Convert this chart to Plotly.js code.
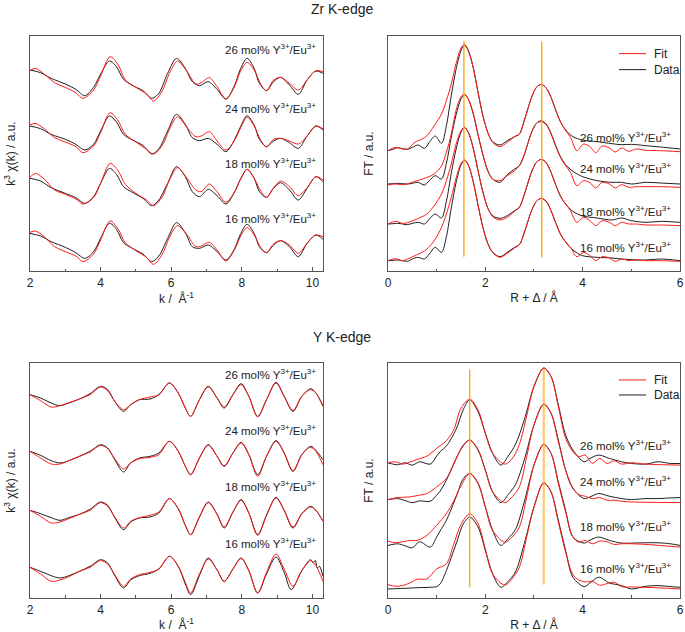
<!DOCTYPE html>
<html><head><meta charset="utf-8">
<script src="https://cdn.plot.ly/plotly-3.0.1.min.js"></script>
<style>html,body{margin:0;padding:0;background:#fff}#chart{width:685px;height:632px}</style>
</head><body><div id="chart"></div>
<script>
// ---------- sample labels ----------
const samples = ['26', '24', '18', '16'];
const legendNames = ['Fit', 'Data'];

// ---------- Zr K-edge, k^3 chi(k) ----------
const kZrData = [2.0,2.3,2.6,3.0,3.3,3.55,3.8,4.0,4.25,4.45,4.65,4.9,5.2,5.45,5.65,5.9,6.15,6.4,6.6,6.8,7.05,7.3,7.55,7.8,7.95,8.15,8.35,8.5,8.7,8.9,9.1,9.35,9.6,9.85,10.1,10.3];
const kZrFit = [2.0,2.15,2.4,2.7,3.0,3.3,3.5,3.8,4.0,4.27,4.5,4.7,5.0,5.3,5.5,5.75,5.95,6.18,6.45,6.7,6.85,7.08,7.3,7.55,7.8,7.97,8.15,8.35,8.55,8.7,8.9,9.1,9.35,9.6,9.85,10.1,10.3];
const chiZrData26 = [0,-8,-25,-42,-58,-77,-52,-12,27,10,-28,-46,-62,-85,-70,-10,35,5,-35,-47,-35,-58,-87,-45,0,35,5,-40,-62,-35,-22,-45,-73,-30,-3,-10];
const chiZrData24 = [0,-8,-25,-40,-55,-72,-55,-15,30,12,-25,-42,-58,-84,-68,-15,35,5,-35,-44,-37,-55,-77,-40,-5,31,3,-40,-62,-45,-37,-50,-67,-30,0,-12];
const chiZrData18 = [0,-8,-28,-45,-58,-75,-55,-15,30,12,-25,-42,-60,-82,-65,-15,35,5,-40,-55,-33,-52,-77,-40,-5,27,0,-40,-57,-30,-13,-35,-65,-30,5,-10];
const chiZrData16 = [0,-8,-25,-42,-58,-75,-55,-15,30,12,-28,-45,-62,-85,-68,-15,32,2,-40,-45,-35,-55,-80,-45,-5,27,0,-40,-58,-35,-22,-40,-70,-30,-5,-18];
const chiZrFit26 = [-2,5,-12,-38,-52,-68,-85,-60,-18,40,15,-30,-52,-72,-93,-62,-10,27,-5,-42,-38,-23,-50,-87,-48,-2,23,0,-45,-62,-30,-22,-40,-60,-30,-2,-5];
const chiZrFit24 = [3,8,-8,-35,-48,-62,-80,-60,-20,40,15,-25,-48,-70,-84,-58,-10,28,-5,-32,-30,-17,-45,-72,-42,-5,26,0,-45,-62,-40,-37,-45,-54,-30,0,-8];
const chiZrFit18 = [3,15,-2,-35,-48,-62,-77,-58,-15,45,22,-18,-45,-65,-82,-55,-5,32,0,-35,-40,-17,-40,-72,-40,-2,27,0,-40,-57,-28,-8,-25,-52,-28,5,-5];
const chiZrFit16 = [3,7,-10,-40,-55,-68,-85,-62,-20,37,12,-28,-52,-72,-93,-62,-12,23,-5,-40,-38,-27,-50,-83,-48,-8,17,-5,-45,-58,-32,-22,-35,-60,-30,-5,-10];
const chiZrOffsets = [603, 435, 278, 113];

// ---------- Zr K-edge, FT ----------
const rZrData = [0,0.1,0.2,0.3,0.4,0.5,0.62,0.75,0.85,0.97,1.1,1.2,1.3,1.4,1.5,1.57,1.65,1.75,1.85,1.95,2.05,2.15,2.3,2.45,2.6,2.7,2.8,2.95,3.05,3.15,3.25,3.35,3.45,3.55,3.65,3.8,4.0,4.3,4.6,4.8,5.0,5.3,5.6,6.0];
const rZrFit = [0,0.15,0.3,0.4,0.55,0.7,0.8,0.95,1.1,1.2,1.3,1.4,1.5,1.57,1.65,1.75,1.85,1.95,2.05,2.15,2.3,2.45,2.6,2.7,2.8,2.95,3.05,3.15,3.25,3.35,3.45,3.55,3.65,3.75,3.88,4.02,4.15,4.27,4.4,4.55,4.67,4.8,4.95,5.1,5.3,5.6,6.0];
const ftZrData26 = [0,4,9,6,4,10,17,7,25,44,22,75,165,245,300,317,300,250,175,105,55,27,17,30,42,50,90,160,190,199,188,160,120,85,62,42,32,27,21,18,19,15,11,5];
const ftZrData24 = [0,1,2,1,0,2,5,-3,10,25,15,62,140,208,255,269,255,212,148,88,40,15,5,28,45,55,88,155,182,190,180,152,114,80,58,38,22,10,5,5,0,5,3,0];
const ftZrData18 = [0,1,2,0,-2,2,5,0,15,30,18,68,152,225,275,290,275,228,160,96,48,25,17,25,40,50,88,156,185,194,184,155,116,82,60,38,24,18,12,18,10,5,8,5];
const ftZrData16 = [0,1,2,0,-2,5,10,5,20,40,25,72,158,235,287,302,287,238,167,100,52,25,12,25,40,48,84,150,178,187,178,150,112,78,56,32,15,10,8,5,3,2,5,0];
const ftZrFit26 = [0,10,5,5,25,35,45,75,110,150,200,262,308,319,302,250,175,105,55,25,12,25,42,50,90,160,190,199,188,160,120,85,60,40,0,20,12,-6,14,8,-4,8,-2,5,1,0,-3];
const ftZrFit24 = [-3,0,-2,0,8,14,20,30,55,95,150,222,262,269,255,212,148,88,40,15,10,25,40,55,88,155,182,187,178,150,112,78,55,35,-5,10,4,-12,5,0,-12,-2,-10,-8,-8,-8,-10];
const ftZrFit18 = [0,8,2,4,12,22,30,55,90,130,180,240,280,290,275,228,160,96,48,22,12,20,38,50,88,156,185,194,184,155,116,82,60,40,5,20,10,-5,10,5,-5,5,0,0,-3,-3,-5];
const ftZrFit16 = [0,6,0,5,15,25,35,60,100,140,190,248,292,302,287,238,167,100,52,25,10,22,38,48,84,150,178,187,178,150,112,78,56,40,12,25,15,0,12,8,-2,5,0,2,0,0,-2];
const ftZrOffsets = [361, 261, 141, 31];
const zrPeakR = [1.56, 3.16];

// ---------- Y K-edge, k^3 chi(k) ----------
const kY = [2.0,2.3,2.6,2.85,3.1,3.4,3.7,4.0,4.2,4.4,4.65,4.85,5.1,5.4,5.65,5.95,6.2,6.4,6.55,6.8,7.05,7.3,7.5,7.75,7.98,8.2,8.45,8.7,8.97,9.2,9.45,9.7,9.95,10.1,10.3];
const kYData16 = [2.0,2.3,2.6,2.85,3.1,3.4,3.7,4.0,4.2,4.4,4.65,4.85,5.1,5.4,5.65,5.95,6.2,6.4,6.55,6.8,7.05,7.3,7.5,7.75,7.98,8.2,8.45,8.7,8.97,9.2,9.4,9.7,9.95,10.02,10.08,10.14,10.2,10.3];
const chiYData26 = [0,-10,-25,-33,-25,-13,3,25,15,-20,-50,-30,-15,-13,0,35,5,-40,-65,-15,25,-10,-40,0,33,-5,-65,-15,37,-5,-50,-5,18,5,-35];
const chiYData24 = [0,-12,-28,-35,-28,-15,0,20,10,-25,-62,-35,-20,-15,-5,30,0,-45,-70,-20,20,-15,-45,-5,27,-10,-70,-15,32,-5,-60,-10,15,3,-25];
const chiYData18 = [0,-10,-22,-30,-22,-12,3,25,15,-22,-58,-35,-23,-20,-8,35,5,-45,-73,-20,25,-12,-53,-5,32,-8,-73,-15,39,0,-53,-10,12,0,-33];
const chiYData16 = [0,-12,-25,-32,-25,-12,3,23,13,-25,-62,-38,-25,-18,-5,33,3,-50,-82,-25,28,-8,-42,-5,28,-10,-77,-20,31,-15,-67,-10,23,13,21,-2,3,-27];
const chiYFit26 = [0,-18,-37,-33,-24,-13,0,23,12,-20,-45,-30,-15,-7,0,35,5,-40,-65,-15,23,-10,-37,0,30,-5,-67,-15,35,-5,-47,-5,15,5,-33];
const chiYFit24 = [0,-20,-38,-38,-28,-15,-2,18,8,-22,-53,-35,-22,-18,-10,30,0,-45,-70,-20,18,-15,-43,-5,25,-10,-75,-15,30,-5,-58,-10,12,0,-40];
const chiYFit18 = [0,-18,-38,-35,-25,-12,0,23,12,-20,-53,-33,-22,-15,-5,35,5,-45,-73,-20,23,-12,-50,-5,30,-8,-75,-15,37,0,-50,-10,10,0,-33];
const chiYFit16 = [0,-20,-42,-38,-28,-12,0,20,10,-22,-57,-35,-22,-15,-5,33,3,-45,-77,-20,25,-8,-42,-5,26,-10,-77,-15,40,-5,-57,-10,20,5,-42];
const chiYOffsets = [610, 440, 263, 92];

// ---------- Y K-edge, FT ----------
const rYData = [0,0.2,0.35,0.5,0.65,0.87,1.0,1.07,1.2,1.4,1.55,1.68,1.85,2.0,2.15,2.32,2.47,2.62,2.8,3.0,3.2,3.35,3.5,3.65,3.8,4.03,4.15,4.33,4.55,4.8,5.0,5.3,5.55,5.8,6.0];
const rYFit = [0,0.15,0.3,0.45,0.6,0.8,1.0,1.2,1.35,1.5,1.68,1.85,2.0,2.15,2.4,2.55,2.7,2.85,3.0,3.2,3.35,3.5,3.65,3.8,3.92,4.05,4.2,4.35,4.5,4.65,4.8,5.0,5.3,6.0];
const ftYData26 = [0,-6,0,-7,3,-4,20,33,50,100,160,188,153,88,28,-7,20,55,128,228,283,258,173,83,38,3,13,23,13,3,-2,-4,3,-2,-2];
const ftYData24 = [0,3,-3,-9,-4,-5,13,25,58,123,163,178,148,88,23,-9,15,45,118,223,285,258,178,88,33,3,8,18,10,3,0,3,3,5,6];
const ftYData18 = [-13,-8,-14,-20,-2,-18,12,30,62,132,187,202,172,102,32,-13,8,35,117,227,289,262,177,92,12,-6,3,12,2,-6,-6,-5,-5,-8,-13];
const ftYData16 = [-13,-12,-11,-10,-9,-8,-6,2,42,122,182,202,172,102,32,-8,10,38,122,232,304,277,192,102,22,-6,5,22,5,-3,-13,-5,-3,-6,-8];
const ftYFit26 = [0,3,-4,2,10,20,43,66,98,163,190,158,88,28,-4,12,55,140,228,283,258,168,73,33,18,23,-2,13,-2,6,-4,0,-4,-7];
const ftYFit24 = [0,5,7,8,12,18,38,63,105,150,178,150,88,23,-9,8,38,128,223,285,258,173,88,35,15,10,3,6,-2,-2,-5,-7,-8,-9];
const ftYFit18 = [0,-5,-2,2,2,17,47,82,120,165,202,174,102,32,-3,12,42,132,227,289,262,172,87,12,-3,2,-8,0,-2,-10,-8,-8,-10,-18];
const ftYFit16 = [0,-5,-3,5,16,17,47,62,120,180,212,182,107,32,-1,17,52,142,232,304,277,187,97,30,14,8,10,-2,3,7,-6,-7,-8,-13];
const ftYOffsets = [404, 294, 170, 40];
const yPeakR = [1.68, 3.2];

// ---------- build traces ----------
const RED = '#ff1a1a', BLACK = '#1e1e1e', ORANGE = '#ffa500';
const traces = [];
function shift(arr, off) { return arr.map(v => v + off); }
function addPanel(xa, ya, xd, datas, xf, fits, offsets) {
  datas.forEach((d, i) => {
    traces.push({type:'scatter', mode:'lines', x: Array.isArray(xd[0]) ? xd[i] : xd, y: shift(d, offsets[i]),
      xaxis: xa, yaxis: ya, line:{color:BLACK, width:1, shape:'spline', smoothing:0.9},
      name:legendNames[1], showlegend:false, hoverinfo:'skip'});
  });
  fits.forEach((f, i) => {
    traces.push({type:'scatter', mode:'lines', x: xf, y: shift(f, offsets[i]),
      xaxis: xa, yaxis: ya, line:{color:RED, width:1, shape:'spline', smoothing:0.9},
      name:legendNames[0], showlegend:false, hoverinfo:'skip'});
  });
}
addPanel('x', 'y', kZrData, [chiZrData26, chiZrData24, chiZrData18, chiZrData16], kZrFit,
  [chiZrFit26, chiZrFit24, chiZrFit18, chiZrFit16], chiZrOffsets);
addPanel('x2', 'y2', rZrData, [ftZrData26, ftZrData24, ftZrData18, ftZrData16], rZrFit,
  [ftZrFit26, ftZrFit24, ftZrFit18, ftZrFit16], ftZrOffsets);
addPanel('x3', 'y3', [kY, kY, kY, kYData16], [chiYData26, chiYData24, chiYData18, chiYData16], kY,
  [chiYFit26, chiYFit24, chiYFit18, chiYFit16], chiYOffsets);
addPanel('x4', 'y4', rYData, [ftYData26, ftYData24, ftYData18, ftYData16], rYFit,
  [ftYFit26, ftYFit24, ftYFit18, ftYFit16], ftYOffsets);

// ---------- layout ----------
const FONT = 'Arial, "Liberation Sans", Helvetica, sans-serif';
const AX = '#555';
function xAxis(domain, range, anchor, title) {
  return {domain, range, anchor, showline:true, mirror:true, linecolor:AX, linewidth:1.2,
    ticks:'inside', ticklen:4, tickwidth:1, tickcolor:AX, dtick:2, tick0:0,
    minor:{ticks:'inside', ticklen:2.5, dtick:1, tickcolor:AX},
    showgrid:false, zeroline:false, tickfont:{size:12, color:'#222'},
    title:{text:title, font:{size:12, color:'#222'}, standoff:5}};
}
function yAxis(domain, range, anchor, title) {
  return {domain, range, anchor, showline:true, mirror:true, linecolor:AX, linewidth:1.2,
    ticks:'', tickvals:[], showticklabels:false, showgrid:false, zeroline:false,
    title:{text:title, font:{size:12, color:'#222'}, standoff:10}};
}
const topDom = [0.5712, 0.9430], botDom = [0.0538, 0.4256];
const leftDom = [0.0438, 0.4715], rightDom = [0.5664, 0.9927];
const kTitle = 'k /  Å<sup>-1</sup>', rTitle = 'R + Δ / Å';
const chiTitle = 'k<sup>3</sup> χ(k) / a.u.', ftTitle = 'FT / a.u.';

const annotations = [
  {text:'Zr K-edge', xref:'paper', yref:'paper', x:0.4993, y:0.9865, xanchor:'center', yanchor:'middle', showarrow:false, font:{size:14, color:'#222'}},
  {text:'Y K-edge', xref:'paper', yref:'paper', x:0.4993, y:0.4668, xanchor:'center', yanchor:'middle', showarrow:false, font:{size:14, color:'#222'}}
];
const labelSets = [
  {xa:'x', ya:'y', x:10.15, ys:[665, 488, 325, 158]},
  {xa:'x2', ya:'y2', x:5.86, ys:[403, 308, 181, 71]},
  {xa:'x3', ya:'y3', x:10.15, ys:[673, 503, 335, 165]},
  {xa:'x4', ya:'y4', x:5.86, ys:[457, 350, 214, 90]}
];
labelSets.forEach(s => s.ys.forEach((yv, i) => annotations.push({
  text: samples[i] + ' mol% Y<sup>3+</sup>/Eu<sup>3+</sup>', xref:s.xa, yref:s.ya, x:s.x, y:yv,
  xanchor:'right', yanchor:'middle', showarrow:false, font:{size:11.5, color:'#222'}})));

const shapes = [];
zrPeakR.forEach((r, i) => shapes.push({type:'line', xref:'x2', yref:'y2 domain', x0:r, x1:r,
  y0:[0.061, 0.057][i], y1:[0.98, 0.976][i], line:{color:ORANGE, width:1.3}}));
yPeakR.forEach((r, i) => shapes.push({type:'line', xref:'x4', yref:'y4 domain', x0:r, x1:r,
  y0:[0.046, 0.057][i], y1:[0.971, 0.974][i],
  line:{color:[ORANGE, 'rgba(255,165,0,0.6)'][i], width:[1.3, 2.2][i]}}));

// legend keys (Fit / Data) inside the two FT panels, drawn in the panels' domain coordinates
const legendColors = [RED, BLACK];
[['x2', 'y2', [0.925, 0.857]], ['x4', 'y4', [0.928, 0.864]]].forEach(([xa, ya, rows]) => {
  rows.forEach((yy, j) => {
    shapes.push({type:'line', xref:xa + ' domain', yref:ya + ' domain', x0:0.791, x1:0.884, y0:yy, y1:yy,
      line:{color:legendColors[j], width:1}});
    annotations.push({text:legendNames[j], xref:xa + ' domain', yref:ya + ' domain', x:0.904, y:yy,
      xanchor:'left', yanchor:'middle', showarrow:false, font:{size:12, color:'#222'}});
  });
});

const layout = {
  width:685, height:632, margin:{l:0, r:0, t:0, b:0},
  paper_bgcolor:'#fff', plot_bgcolor:'#fff',
  font:{family:FONT, color:'#222'}, showlegend:false,
  xaxis: xAxis(leftDom, [2, 10.3], 'y', kTitle),
  yaxis: yAxis(topDom, [0, 705], 'x', chiTitle),
  xaxis2: xAxis(rightDom, [0, 6], 'y2', rTitle),
  yaxis2: yAxis(topDom, [0, 705], 'x2', ftTitle),
  xaxis3: xAxis(leftDom, [2, 10.3], 'y3', kTitle),
  yaxis3: yAxis(botDom, [0, 705], 'x3', chiTitle),
  xaxis4: xAxis(rightDom, [0, 6], 'y4', rTitle),
  yaxis4: yAxis(botDom, [0, 702], 'x4', ftTitle),
  annotations, shapes
};
Plotly.newPlot('chart', traces, layout, {displayModeBar:false, staticPlot:true});
</script></body></html>
